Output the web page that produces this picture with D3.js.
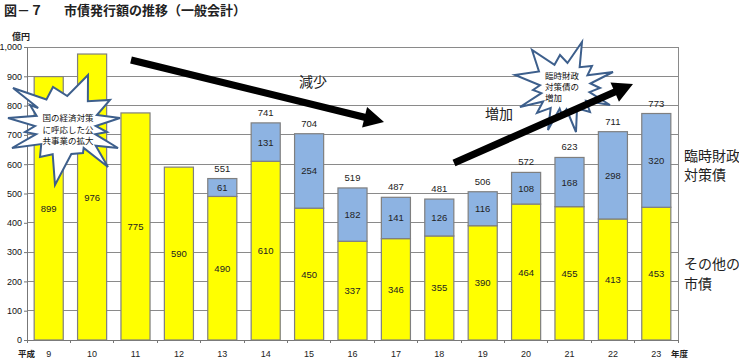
<!DOCTYPE html>
<html><head><meta charset="utf-8">
<script src="https://cdn.jsdelivr.net/npm/d3@7"></script>
<style>
body{margin:0;background:#fff;}
svg{display:block;}
</style></head>
<body><svg id="c" width="739" height="358"></svg>
<script>
const years = ["9","10","11","12","13","14","15","16","17","18","19","20","21","22","23"];
const otherBonds = [899,976,775,590,490,610,450,337,346,355,390,464,455,413,453];
const specialBonds = [0,0,0,0,61,131,254,182,141,126,116,108,168,298,320];
const totals = [899,976,775,590,551,741,704,519,487,481,506,572,623,711,773];
const yTicks = [0,100,200,300,400,500,600,700,800,900,1000];

const svg = d3.select("#c");
const JP = "'Noto Sans CJK JP', 'Noto Sans', sans-serif";
const NUM = "'Liberation Sans', Arial, sans-serif";
const L = 27, R = 678, T = 47, B = 340;

const x = d3.scaleBand().domain(years).range([L, R]).paddingInner(0.33).paddingOuter(0.165);
const y = d3.scaleLinear().domain([0, 1000]).range([B, T]);

// title
svg.append("text").attr("x", 4).attr("y", 15).attr("font-family", JP).attr("font-size", 13)
  .attr("font-weight", "bold").attr("fill", "#222").text("図－７");
svg.append("text").attr("x", 64).attr("y", 15).attr("font-family", JP).attr("font-size", 13)
  .attr("font-weight", "bold").attr("fill", "#222").text("市債発行額の推移（一般会計）");
svg.append("text").attr("x", 12).attr("y", 40).attr("font-family", JP).attr("font-size", 9)
  .attr("font-weight", "bold").attr("fill", "#222").text("億円");

// grid
svg.append("g").selectAll("line").data(yTicks.filter(d => d > 0)).join("line")
  .attr("x1", L).attr("x2", R).attr("y1", d => y(d)).attr("y2", d => y(d))
  .attr("stroke", "#8a8a8a").attr("stroke-width", 1).attr("shape-rendering", "crispEdges");
// frame right
svg.append("line").attr("x1", R).attr("x2", R).attr("y1", T).attr("y2", B)
  .attr("stroke", "#8a8a8a").attr("shape-rendering", "crispEdges");

// y axis
const yAxis = d3.axisLeft(y).tickValues(yTicks).tickSize(3).tickPadding(2).tickFormat(d3.format(","));
const gy = svg.append("g").attr("transform", `translate(${L},0)`).call(yAxis);
gy.select(".domain").attr("stroke", "#777");
gy.selectAll(".tick line").attr("stroke", "#777");
gy.selectAll("text").attr("font-family", NUM).attr("font-size", 9).attr("fill", "#111");

// x axis (boundary ticks)
const step = x.step();
const bounds = d3.range(years.length + 1).map(i => L + i * step);
svg.append("line").attr("x1", L).attr("x2", R).attr("y1", B).attr("y2", B)
  .attr("stroke", "#777").attr("shape-rendering", "crispEdges");
svg.append("g").selectAll("line").data(bounds).join("line")
  .attr("x1", d => d).attr("x2", d => d).attr("y1", B).attr("y2", B + 3)
  .attr("stroke", "#777").attr("shape-rendering", "crispEdges");
svg.append("g").selectAll("text").data(years).join("text")
  .attr("x", d => x(d) + x.bandwidth() / 2).attr("y", 357)
  .attr("text-anchor", "middle").attr("font-family", NUM).attr("font-size", 9)
  .attr("fill", "#222").text(d => d);
svg.append("text").attr("x", 18).attr("y", 357).attr("font-family", JP).attr("font-size", 8.5)
  .attr("font-weight", "bold").attr("fill", "#222").text("平成");
svg.append("text").attr("x", 671).attr("y", 357).attr("font-family", JP).attr("font-size", 8.5)
  .attr("font-weight", "bold").attr("fill", "#222").text("年度");

// bars
const gBars = svg.append("g");
gBars.selectAll("rect.o").data(years).join("rect").attr("class", "o")
  .attr("x", (d) => x(d)).attr("width", x.bandwidth())
  .attr("y", (d, i) => y(otherBonds[i])).attr("height", (d, i) => y(0) - y(otherBonds[i]))
  .attr("fill", "#ffff00").attr("stroke", "#7f7f7f").attr("stroke-width", 1.2);
gBars.selectAll("rect.s").data(years.filter((d, i) => specialBonds[i] > 0)).join("rect").attr("class", "s")
  .each(function (d) {
    const i = years.indexOf(d);
    d3.select(this).attr("x", x(d)).attr("width", x.bandwidth())
      .attr("y", y(otherBonds[i] + specialBonds[i]))
      .attr("height", y(otherBonds[i]) - y(otherBonds[i] + specialBonds[i]));
  })
  .attr("fill", "#8db3e2").attr("stroke", "#7f7f7f").attr("stroke-width", 1.2);

// labels
const gl = svg.append("g").attr("font-family", NUM).attr("font-size", 9.5).attr("fill", "#222").attr("text-anchor", "middle");
years.forEach((d, i) => {
  const cx = x(d) + x.bandwidth() / 2;
  gl.append("text").attr("x", cx).attr("y", y(otherBonds[i] / 2) + 3.5).text(otherBonds[i]);
  if (specialBonds[i] > 0) {
    gl.append("text").attr("x", cx).attr("y", y(otherBonds[i] + specialBonds[i] / 2) + 3.5).text(specialBonds[i]);
    gl.append("text").attr("x", cx).attr("y", y(totals[i]) - 7).text(totals[i]);
  }
});

// right legend text
const legend = [["臨時財政", 161], ["対策債", 180], ["その他の", 269], ["市債", 289]];
svg.append("g").selectAll("text").data(legend).join("text")
  .attr("x", 684).attr("y", d => d[1]).attr("font-family", JP).attr("font-size", 14)
  .attr("fill", "#222").text(d => d[0]);

svg.append("text").attr("x", 299).attr("y", 87).attr("font-family", JP).attr("font-size", 14).attr("fill", "#222").text("減少");
svg.append("text").attr("x", 485).attr("y", 119).attr("font-family", JP).attr("font-size", 14).attr("fill", "#222").text("増加");

// starbursts
function star(cx, cy, tips, k) {
  const pts = [];
  const pol = tips.map(p => {
    const dx = p[0] - cx, dy = p[1] - cy;
    return [Math.atan2(dy, dx), Math.hypot(dx, dy)];
  });
  pol.sort((a, b) => a[0] - b[0]);
  for (let i = 0; i < pol.length; i++) {
    const a = pol[i], b = pol[(i + 1) % pol.length];
    pts.push([cx + a[1] * Math.cos(a[0]), cy + a[1] * Math.sin(a[0])]);
    let bAng = b[0];
    if (bAng < a[0]) bAng += Math.PI * 2;
    const ma = (a[0] + bAng) / 2, mr = k * (a[1] + b[1]) / 2;
    pts.push([cx + mr * Math.cos(ma), cy + mr * Math.sin(ma)]);
  }
  return pts;
}
const star1Tips = [[13,88],[53,87],[88,75],[110,100],[120,118],[107,132],[118,148],[108,167],[83,153],[55,185],[40,157],[12,148],[25,132],[8,118],[30,105]];
const star2Tips = [[582,42],[560,55],[532,50],[515,75],[533,90],[520,107],[537,113],[548,130],[562,115],[576,132],[590,112],[610,105],[600,88],[613,72],[592,66]];

const line = d3.line().curve(d3.curveLinearClosed);
svg.append("path").attr("d", line(star(66, 126, star1Tips, 0.62)))
  .attr("fill", "#fff").attr("stroke", "#3d5f8c").attr("stroke-width", 2).attr("stroke-linejoin", "miter");
svg.append("path").attr("d", line(star(565, 87, star2Tips, 0.6)))
  .attr("fill", "#fff").attr("stroke", "#3d5f8c").attr("stroke-width", 2).attr("stroke-linejoin", "miter");

const s1 = ["国の経済対策", "に呼応した公", "共事業の拡大"];
svg.append("g").selectAll("text").data(s1).join("text")
  .attr("x", 68).attr("y", (d, i) => 121 + i * 11.5).attr("text-anchor", "middle")
  .attr("font-family", JP).attr("font-size", 8.5).attr("fill", "#111").text(d => d);
const s2 = ["臨時財政", "対策債の", "増加"];
svg.append("g").selectAll("text").data(s2).join("text")
  .attr("x", 545).attr("y", (d, i) => 79 + i * 11).attr("font-family", JP)
  .attr("font-size", 8.5).attr("fill", "#111").text(d => d);

// arrows
function arrow(x1, y1, x2, y2) {
  const ang = Math.atan2(y2 - y1, x2 - x1), len = Math.hypot(x2 - x1, y2 - y1);
  const hl = 20, hw = 10.5, sw = 3.6;
  const g = svg.append("g").attr("transform", `translate(${x1},${y1}) rotate(${ang * 180 / Math.PI})`);
  g.append("path").attr("d",
    `M0,${-sw} L${len - hl},${-sw} L${len - hl},${-hw} L${len},0 L${len - hl},${hw} L${len - hl},${sw} L0,${sw} Z`)
    .attr("fill", "#000");
}
arrow(131, 60, 384, 122);
arrow(454, 163, 633, 84);
</script>
</body></html>
